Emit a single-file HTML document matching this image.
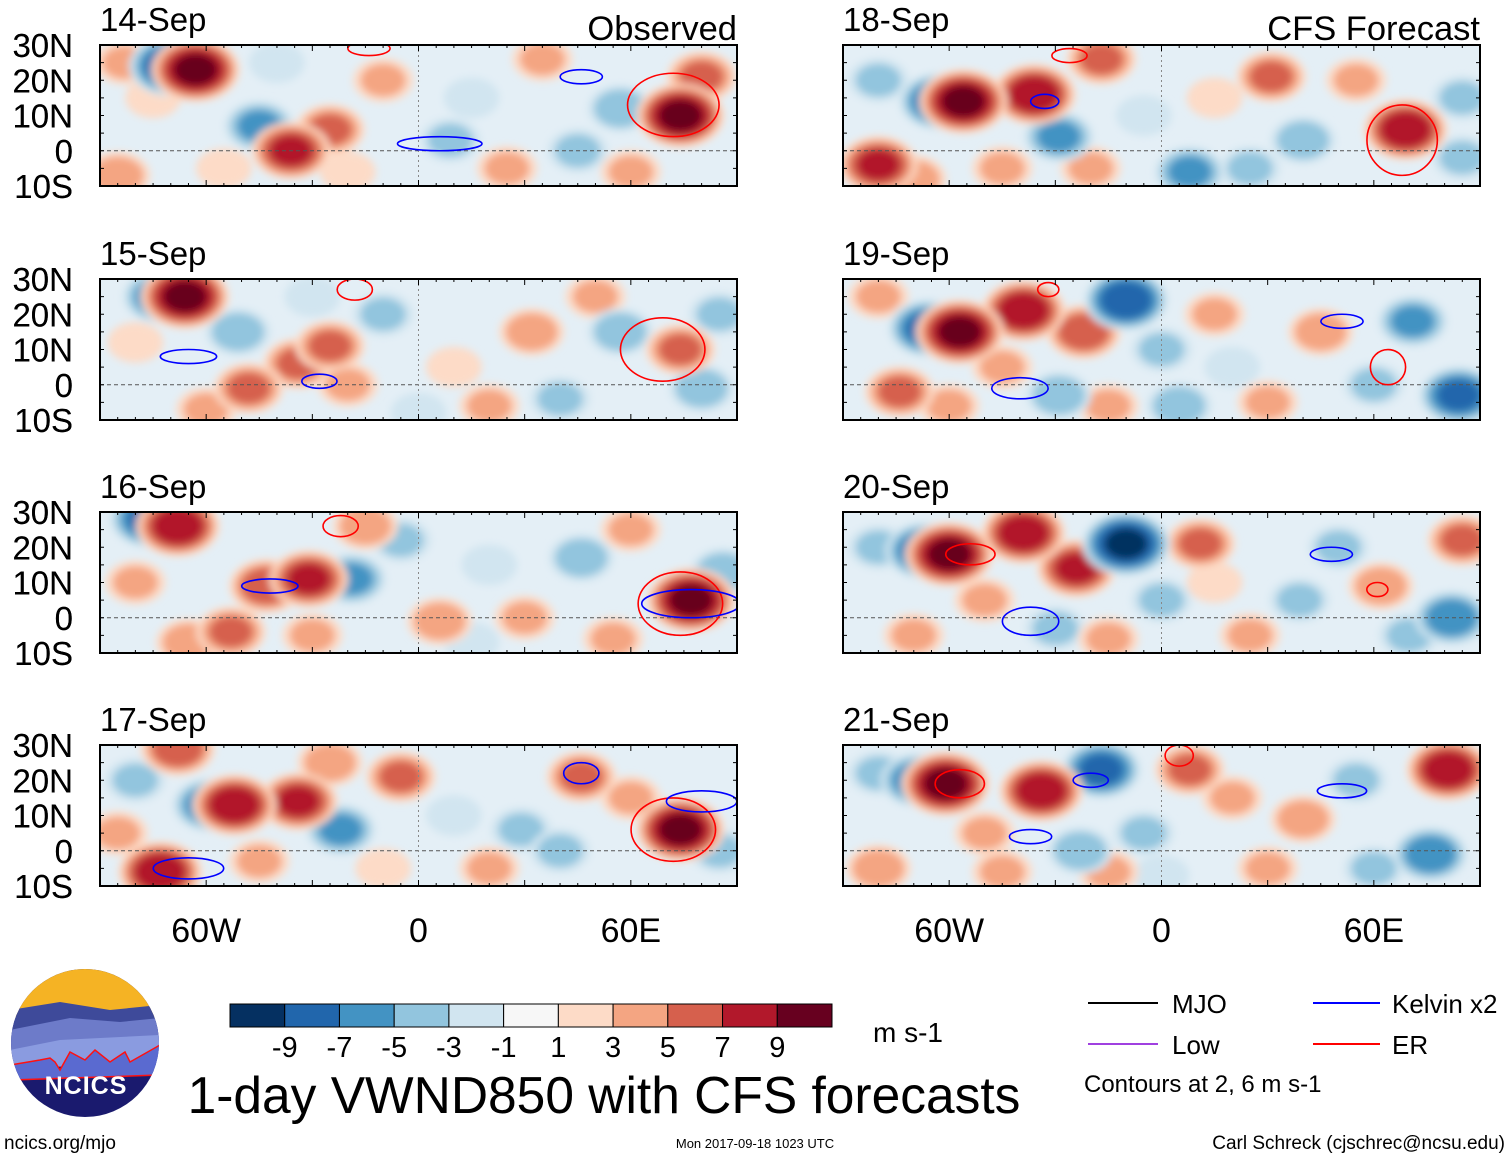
<!DOCTYPE html>
<html><head><meta charset="utf-8">
<style>
body{margin:0;background:#fff;width:1510px;height:1159px;overflow:hidden;font-family:"Liberation Sans",sans-serif;}
svg{display:block}
</style></head>
<body>
<svg id="chart" width="1510" height="1159" viewBox="0 0 1510 1159">
<defs>
<filter id="blur" x="-20%" y="-20%" width="140%" height="140%"><feGaussianBlur stdDeviation="4"/></filter>
<clipPath id="logoclip"><circle cx="85" cy="1043" r="74"/></clipPath>
</defs>
<g id="panels"></g>
<g id="labels" font-family="Liberation Sans, sans-serif" fill="#000"></g>
<g id="colorbar"></g>
<text x="873" y="1042" font-size="28">m s-1</text>
<g font-size="26">
<line x1="1088" y1="1003" x2="1158" y2="1003" stroke="#000" stroke-width="2"/>
<text x="1172" y="1013">MJO</text>
<line x1="1088" y1="1044" x2="1158" y2="1044" stroke="#a040e0" stroke-width="2"/>
<text x="1172" y="1054">Low</text>
<line x1="1313" y1="1003" x2="1380" y2="1003" stroke="#0000ff" stroke-width="2"/>
<text x="1392" y="1013">Kelvin x2</text>
<line x1="1313" y1="1044" x2="1380" y2="1044" stroke="#ff0000" stroke-width="2"/>
<text x="1392" y="1054">ER</text>
<text x="1084" y="1092" font-size="24">Contours at 2, 6 m s-1</text>
</g>
<text x="604" y="1113" font-size="51.5" text-anchor="middle">1-day VWND850 with CFS forecasts</text>
<text x="4" y="1149" font-size="19">ncics.org/mjo</text>
<text x="755" y="1148" font-size="13" text-anchor="middle">Mon 2017-09-18 1023 UTC</text>
<text x="1505" y="1149" font-size="19" text-anchor="end">Carl Schreck (cjschrec@ncsu.edu)</text>
<g clip-path="url(#logoclip)">
<rect x="10" y="968" width="150" height="150" fill="#1a1a6e"/>
<rect x="10" y="968" width="150" height="50" fill="#f5b324"/>
<path d="M10 1010 L60 1002 L110 1010 L160 1005 L160 1030 L100 1025 L10 1030Z" fill="#3e4a9a"/>
<path d="M10 1030 L70 1018 L120 1022 L160 1018 L160 1045 L10 1050Z" fill="#6d7bc9"/>
<path d="M10 1050 L60 1040 L160 1035 L160 1060 L10 1070Z" fill="#8a9be0"/>
<path d="M10 1065 L40 1060 L50 1058 L55 1062 L60 1070 L70 1052 L85 1060 L95 1050 L110 1062 L125 1052 L130 1062 L160 1045 L160 1075 L10 1080Z" fill="#5a6ad0" stroke="#ff1010" stroke-width="1.5"/>
<text x="86" y="1094" font-size="25" font-weight="bold" fill="#fff" text-anchor="middle" letter-spacing="1">NCICS</text>
</g>
</svg>
<script>
// ---- data ----
const panelDates = ["14-Sep","15-Sep","16-Sep","17-Sep","18-Sep","19-Sep","20-Sep","21-Sep"];
const latTicks = ["30N","20N","10N","0","10S"];
const latValues = [30,20,10,0,-10];
const lonTickLabels = ["60W","0","60E"];
const lonTickValues = [-60,0,60];
const cbarLevels = [-9,-7,-5,-3,-1,1,3,5,7,9];
const cbarColors = ["#053061","#2166ac","#4393c3","#92c5de","#d1e5f0","#f7f7f7","#fddbc7","#f4a582","#d6604d","#b2182b","#67001f"];
// anomaly blobs per panel: [lon, lat, value]
const blobs0 = [[-70,24,-8],[-63,23,9],[-45,7,-5],[-36,0,7],[-25,6,5],[74,10,9],[80,21,5],[57,12,-4],[35,26,3],[9,3,-3],[-85,-7,4],[-75,15,2],[-10,20,3],[15,15,-2],[25,-5,3],[45,0,-3],[-55,-5,2],[-20,-6,2],[60,-6,3],[-40,25,-2],[-83,25,3]];
const blobs1 = [[-66,25,9],[-73,25,-6],[-34,6,5],[-48,-1,5],[-51,15,-4],[-25,11,5],[74,10,5],[57,15,-4],[80,-1,-4],[32,15,4],[40,-4,-3],[-80,12,2],[-10,20,-3],[10,5,2],[20,-6,3],[-60,-7,3],[-20,0,3],[50,25,3],[-30,25,-2],[85,20,-3],[0,-8,-2]];
const blobs2 = [[-68,26,8],[-76,28,-7],[-43,9,6],[-31,11,7],[-19,11,-5],[77,5,9],[-53,-4,5],[6,-1,4],[46,17,-4],[86,13,-4],[-80,10,3],[-65,-7,4],[-5,22,-3],[20,15,-2],[30,0,3],[60,25,3],[-30,-5,3],[-15,26,4],[55,-6,3],[15,-7,-2]];
const blobs3 = [[-68,29,6],[-59,13,-6],[-52,13,8],[-34,14,7],[-22,6,-5],[74,6,9],[-73,-6,8],[-5,21,5],[46,21,5],[29,6,-3],[-80,20,-3],[-45,-3,3],[-25,25,4],[10,10,-2],[20,-5,3],[60,15,3],[85,0,-3],[-10,-5,2],[40,0,-3],[-85,5,3]];
const blobs4 = [[-56,14,9],[-63,14,-7],[-36,16,8],[-29,4,-5],[-80,-4,7],[69,6,8],[31,21,5],[8,-6,-5],[40,3,-4],[-17,26,5],[-80,20,-3],[-45,-5,3],[-5,10,-2],[15,15,2],[55,20,3],[85,15,-3],[85,-2,-3],[-20,-5,3],[25,-5,-3],[-70,-8,4]];
const blobs5 = [[-57,15,9],[-66,16,-7],[-39,21,8],[-10,24,-8],[-22,15,6],[-29,-3,-4],[84,-3,-7],[71,18,-5],[45,15,4],[-74,-2,5],[-80,25,3],[-45,5,3],[0,10,-3],[15,20,3],[30,-5,3],[60,0,-3],[-15,-6,3],[20,5,-2],[-60,-6,3],[5,-6,-4]];
const blobs6 = [[-60,18,9],[-67,19,-7],[-39,24,8],[-24,14,7],[-10,21,-9],[82,0,-6],[11,21,5],[62,9,4],[85,22,5],[39,5,-3],[-80,20,-3],[-50,5,3],[-30,-3,-3],[0,5,-3],[25,-5,3],[50,20,-3],[70,-5,-3],[-70,-5,3],[15,10,2],[-15,-6,3]];
const blobs7 = [[-61,19,9],[-69,20,-6],[-34,17,8],[-17,23,-7],[8,23,5],[81,23,8],[76,-1,-6],[40,9,4],[-23,0,-4],[-80,-5,4],[-80,22,-3],[-50,5,3],[-5,5,-3],[20,15,3],[30,-5,3],[55,20,-3],[60,-5,-3],[-15,-6,3],[-45,-6,3],[0,-7,-2]];
const allBlobs = [blobs0,blobs1,blobs2,blobs3,blobs4,blobs5,blobs6,blobs7];
// contours per panel: [lon, lat, lonRadius, latRadius, type]
const contours0 = [[72,13,13,9,"ER"],[6,2,12,2,"K"],[46,21,6,2,"K"],[-14,29,6,2,"ER"]];
const contours1 = [[69,10,12,9,"ER"],[-65,8,8,2,"K"],[-28,1,5,2,"K"],[-18,27,5,3,"ER"]];
const contours2 = [[74,4,12,9,"ER"],[77,4,14,4,"K"],[-42,9,8,2,"K"],[-22,26,5,3,"ER"]];
const contours3 = [[72,6,12,9,"ER"],[-65,-5,10,3,"K"],[80,14,10,3,"K"],[46,22,5,3,"K"]];
const contours4 = [[68,3,10,10,"ER"],[-33,14,4,2,"K"],[-26,27,5,2,"ER"]];
const contours5 = [[64,5,5,5,"ER"],[-40,-1,8,3,"K"],[51,18,6,2,"K"],[-32,27,3,2,"ER"]];
const contours6 = [[61,8,3,2,"ER"],[-37,-1,8,4,"K"],[48,18,6,2,"K"],[-54,18,7,3,"ER"]];
const contours7 = [[-57,19,7,4,"ER"],[-37,4,6,2,"K"],[51,17,7,2,"K"],[5,27,4,3,"ER"],[-20,20,5,2,"K"]];
const allContours = [contours0,contours1,contours2,contours3,contours4,contours5,contours6,contours7];

// ---- layout ----
const NS="http://www.w3.org/2000/svg";
const colX=[100,843], rowY=[45,279,512,745], PW=637, PH=141;
function mk(tag,attrs,parent){const e=document.createElementNS(NS,tag);for(const k in attrs)e.setAttribute(k,attrs[k]);parent.appendChild(e);return e;}
function levelColor(v,L){const idx=v>0?5+Math.ceil(L/2):5-Math.ceil(L/2);return cbarColors[idx];}
const panelsG=document.getElementById('panels');
const labelsG=document.getElementById('labels');
const defs=document.querySelector('defs');
for(let p=0;p<8;p++){
  const x0=colX[p<4?0:1], y0=rowY[p%4];
  const xs=lon=>x0+(lon+90)/180*PW;
  const ys=lat=>y0+(30-lat)/40*PH;
  const cp=mk('clipPath',{id:'cp'+p},defs);mk('rect',{x:x0,y:y0,width:PW,height:PH},cp);
  const g=mk('g',{'clip-path':'url(#cp'+p+')'},panelsG);
  
  
  mk('rect',{x:x0,y:y0,width:PW,height:PH,fill:'#e4eff6'},g);
  const fg=mk('g',{filter:'url(#blur)'},g);
  // weak levels first for all blobs, then stronger ones
  const sorted=allBlobs[p].slice().sort((a,b)=>Math.abs(a[2])-Math.abs(b[2]));
  sorted.forEach(b=>{
    const [lon,lat,v]=b, a=Math.abs(v);
    const R=6+a*0.6;
    for(let L=1;L<=a+0.5;L+=2){
      const s=Math.sqrt(1-(L-1)/(a+1.5));
      const e=mk('ellipse',{cx:xs(lon),cy:ys(lat),rx:R*1.1*3.52*s,ry:R*0.8*3.52*s,fill:levelColor(v,L)},fg);
      
      
    }
  });
  mk('line',{x1:x0,y1:ys(0),x2:x0+PW,y2:ys(0),stroke:'#555','stroke-dasharray':'4,3','stroke-width':1},g);
  mk('line',{x1:xs(0),y1:y0,x2:xs(0),y2:y0+PH,stroke:'#888','stroke-dasharray':'2,3','stroke-width':1},g);
  allContours[p].forEach(c=>{
    const e=mk('ellipse',{cx:xs(c[0]),cy:ys(c[1]),rx:c[2]*3.52,ry:c[3]*3.52,fill:'none',stroke:c[4]==='ER'?'#ff0000':'#0000ff','stroke-width':1.6},g);
    
    
  });
  const fr=mk('rect',{x:x0,y:y0,width:PW,height:PH,fill:'none',stroke:'#000','stroke-width':2},panelsG);
  
  
  for(let lon=-90;lon<=90;lon+=5){
    const len=lon%30===0?6:3;
    mk('line',{x1:xs(lon),y1:y0,x2:xs(lon),y2:y0+len,stroke:'#000'},panelsG);
    mk('line',{x1:xs(lon),y1:y0+PH,x2:xs(lon),y2:y0+PH-len,stroke:'#000'},panelsG);
  }
  for(let lat=-10;lat<=30;lat+=5){
    mk('line',{x1:x0,y1:ys(lat),x2:x0+4,y2:ys(lat),stroke:'#000'},panelsG);
    mk('line',{x1:x0+PW,y1:ys(lat),x2:x0+PW-4,y2:ys(lat),stroke:'#000'},panelsG);
  }
  const t=mk('text',{x:x0,y:y0-14,'font-size':33},labelsG);t.textContent=panelDates[p];
  
  
  if(p%4===0){
    const tt=mk('text',{x:x0+PW,y:y0-5,'font-size':34.5,'text-anchor':'end'},labelsG);
    tt.textContent=p===0?'Observed':'CFS Forecast';
    
    
  }
  latTicks.forEach((lb,i)=>{
    const tl=mk('text',{x:73,y:ys(latValues[i])+12,'font-size':33,'text-anchor':'end'},labelsG);
    tl.textContent=lb;
    
    
  });
  if(p%4===3){
    lonTickLabels.forEach((lb,i)=>{
      const tl=mk('text',{x:xs(lonTickValues[i]),y:942,'font-size':34,'text-anchor':'middle'},labelsG);
      tl.textContent=lb;
      
      
    });
  }
}
const cb=document.getElementById('colorbar');
const bw=(832-230)/cbarColors.length;
cbarColors.forEach((c,i)=>{
  const r=mk('rect',{x:230+i*bw,y:1004,width:bw,height:23,fill:c,stroke:'#000','stroke-width':1},cb);
  
  
});
cbarLevels.forEach((v,i)=>{
  const t=mk('text',{x:230+(i+1)*bw,y:1057,'font-size':29,'text-anchor':'middle'},cb);
  t.textContent=v;
  
  
});
</script>
</body></html>
